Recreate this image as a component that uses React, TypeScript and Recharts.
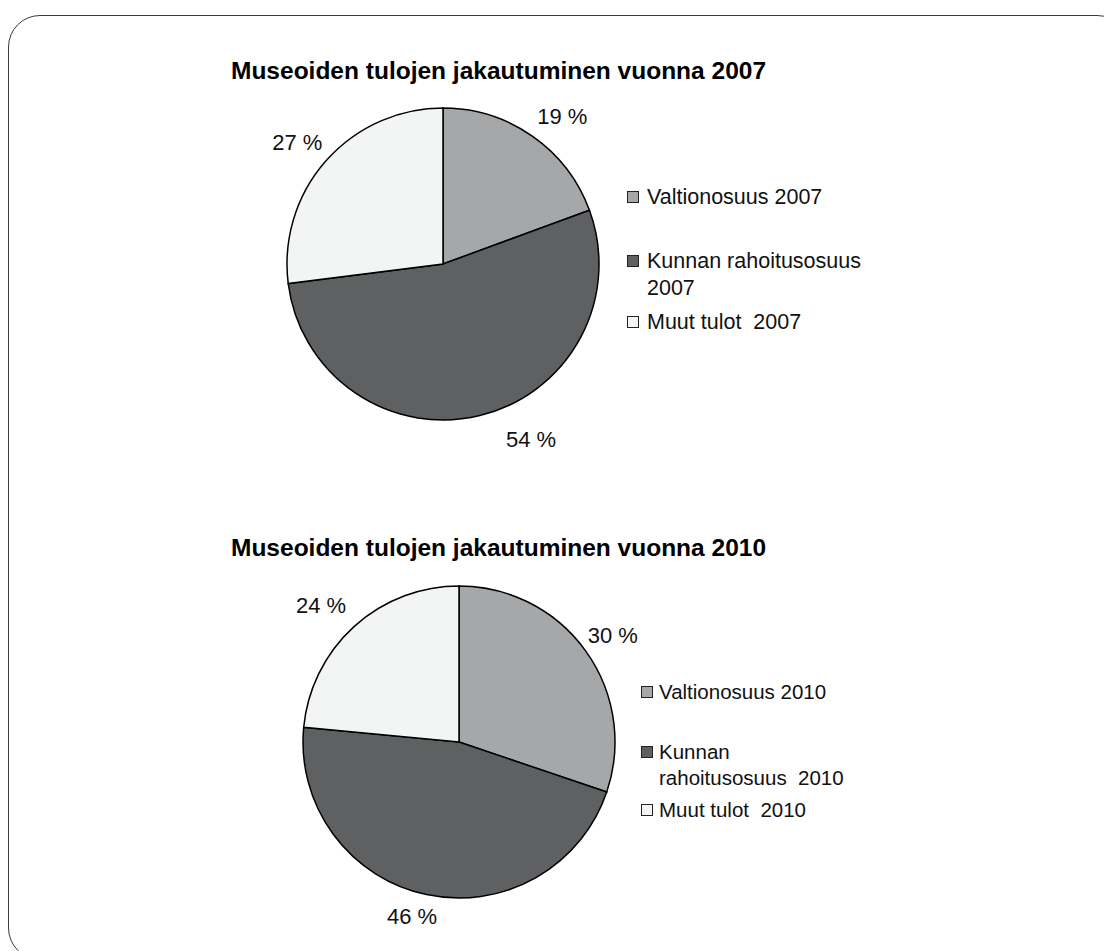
import React from 'react';
import { PieChart, Pie, Cell, Legend } from 'recharts';

const categories2007 = ['Valtionosuus 2007', 'Kunnan rahoitusosuus 2007', 'Muut tulot  2007'];
const values2007 = [19.4, 53.6, 27.0];
const categories2010 = ['Valtionosuus 2010', 'Kunnan rahoitusosuus  2010', 'Muut tulot  2010'];
const values2010 = [30.2, 46.3, 23.5];
const sliceColors = ['#a6a7a9', '#5f6062', '#f3f4f4'];
const titles = [
  'Museoiden tulojen jakautuminen vuonna 2007',
  'Museoiden tulojen jakautuminen vuonna 2010',
];

const FONT = '"Liberation Sans", Arial, Helvetica, sans-serif';
const RAD = Math.PI / 180;

const data2007 = categories2007.map((name, i) => ({ name, value: values2007[i] }));
const data2010 = categories2010.map((name, i) => ({ name, value: values2010[i] }));

function makeLabel(shifts: number[], offsets: number[]) {
  return (props: any) => {
    const { cx, cy, midAngle, outerRadius, index, value } = props;
    const a = (midAngle + shifts[index]) * RAD;
    const r = outerRadius + offsets[index];
    const x = cx + r * Math.cos(a);
    const y = cy - r * Math.sin(a);
    return (
      <text
        key={`lbl-${index}`}
        x={x}
        y={y}
        textAnchor="middle"
        dominantBaseline="central"
        fontSize={22}
        fill="#111"
        fontFamily={FONT}
      >
        {`${Math.round(value)} %`}
      </text>
    );
  };
}

function makeLegend(
  names: string[],
  textWidth: number,
  lineHeight: number,
  gaps: number[],
  fontSize: number,
  gapAfterSwatch: number
) {
  return () => (
    <div style={{ fontFamily: FONT, color: '#111' }}>
      {names.map((n, i) => (
        <div
          key={n}
          style={{ display: 'flex', alignItems: 'flex-start', marginBottom: gaps[i] }}
        >
          <span
            style={{
              width: 10,
              height: 10,
              background: sliceColors[i],
              border: '1.2px solid #222',
              marginTop: (lineHeight - 12) / 2,
              marginRight: gapAfterSwatch,
              flex: 'none',
            }}
          />
          <span
            style={{
              width: textWidth,
              whiteSpace: 'pre-wrap',
              lineHeight: `${lineHeight}px`,
              fontSize,
              textAlign: 'left',
            }}
          >
            {n}
          </span>
        </div>
      ))}
    </div>
  );
}

const titleStyle: React.CSSProperties = {
  position: 'absolute',
  left: 223,
  fontFamily: FONT,
  fontWeight: 'bold',
  fontSize: 24.5,
  lineHeight: '24.5px',
  color: '#000',
  whiteSpace: 'nowrap',
};

export default function App() {
  return (
    <div style={{ position: 'relative', width: 1104, height: 943, overflow: 'hidden', background: '#fff' }}>
      <div
        style={{
          position: 'absolute',
          left: 0,
          top: 7,
          width: 1121,
          height: 945,
          boxSizing: 'border-box',
          border: '1.5px solid #3a3a3a',
          borderRadius: 32,
        }}
      />
      <div style={{ ...titleStyle, top: 51.3 }}>{titles[0]}</div>
      <div style={{ position: 'absolute', left: 0, top: 0 }}>
        <PieChart width={1104} height={470} margin={{ top: 0, right: 0, bottom: 0, left: 0 }}>
          <Pie
            data={data2007}
            dataKey="value"
            nameKey="name"
            cx={435}
            cy={256}
            outerRadius={156}
            startAngle={90}
            endAngle={-270}
            stroke="#000"
            strokeWidth={1.5}
            isAnimationActive={false}
            labelLine={false}
            label={makeLabel([-4, 13, 1.5], [34, 40, 34])}
          >
            {data2007.map((d, i) => (
              <Cell key={d.name} fill={sliceColors[i]} />
            ))}
          </Pie>
          <Legend
            layout="vertical"
            align="right"
            verticalAlign="middle"
            content={makeLegend(categories2007, 240, 27, [37, 7, 0], 21.5, 8)}
            wrapperStyle={{ position: 'absolute', left: 619, top: 175.5, width: 300 }}
          />
        </PieChart>
      </div>
      <div style={{ ...titleStyle, top: 528.3 }}>{titles[1]}</div>
      <div style={{ position: 'absolute', left: 0, top: 470 }}>
        <PieChart width={1104} height={470} margin={{ top: 0, right: 0, bottom: 0, left: 0 }}>
          <Pie
            data={data2010}
            dataKey="value"
            nameKey="name"
            cx={451}
            cy={264}
            outerRadius={156}
            startAngle={90}
            endAngle={-270}
            stroke="#000"
            strokeWidth={1.5}
            isAnimationActive={false}
            labelLine={false}
            label={makeLabel([-1, -3, 3], [31, 25, 38])}
          >
            {data2010.map((d, i) => (
              <Cell key={d.name} fill={sliceColors[i]} />
            ))}
          </Pie>
          <Legend
            layout="vertical"
            align="right"
            verticalAlign="middle"
            content={makeLegend(categories2010, 195, 26, [34, 6, 0], 20.5, 6)}
            wrapperStyle={{ position: 'absolute', left: 633, top: 201, width: 240 }}
          />
        </PieChart>
      </div>
    </div>
  );
}
